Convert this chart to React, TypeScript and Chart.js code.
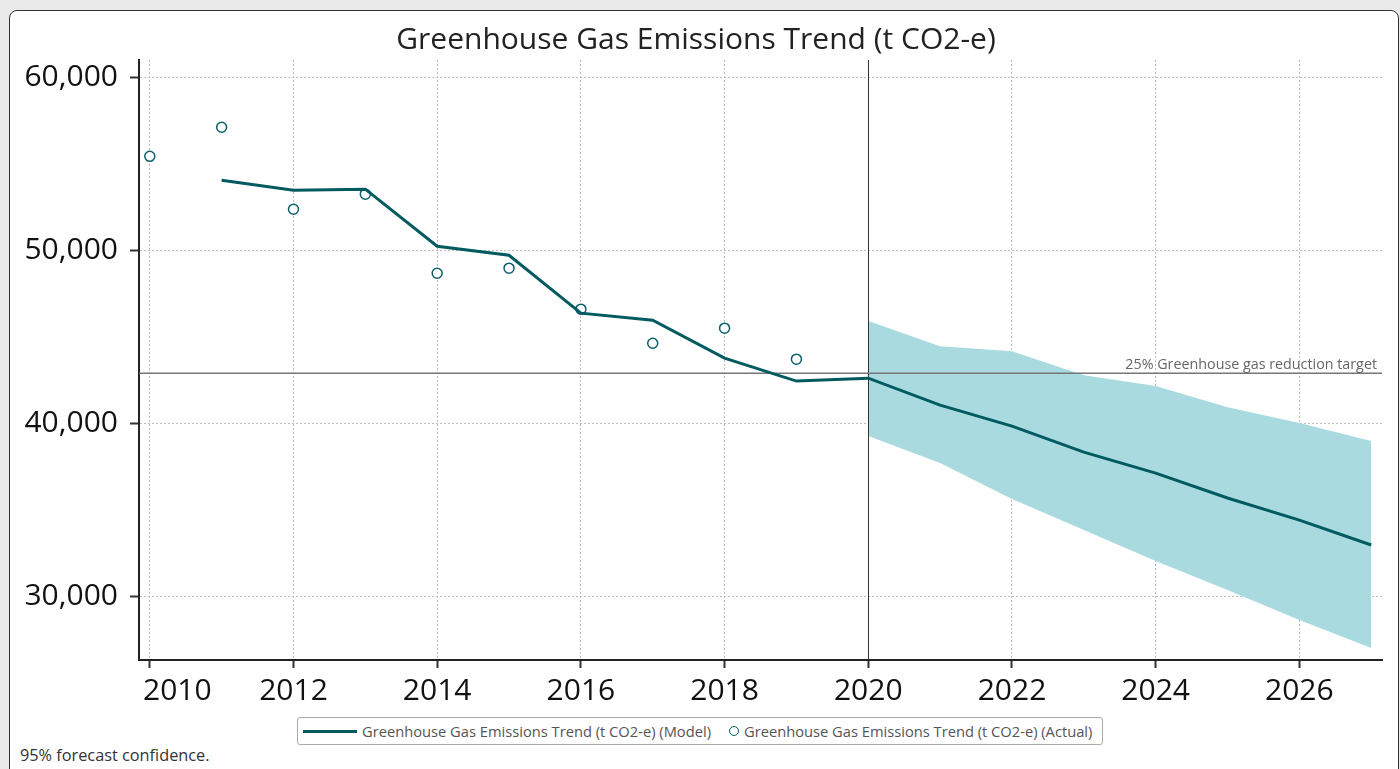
import React, { useEffect, useRef } from "react";
import { Chart, registerables } from "chart.js";

Chart.register(...registerables);

const TITLE = "Greenhouse Gas Emissions Trend (t CO2-e)";
const MODEL_LABEL = "Greenhouse Gas Emissions Trend (t CO2-e) (Model)";
const ACTUAL_LABEL = "Greenhouse Gas Emissions Trend (t CO2-e) (Actual)";
const TARGET_LABEL = "25% Greenhouse gas reduction target";
const FOOTNOTE = "95% forecast confidence.";

const actualYears = [2010, 2011, 2012, 2013, 2014, 2015, 2016, 2017, 2018, 2019];
const actualValues = [55430, 57110, 52370, 53240, 48670, 48960, 46590, 44620, 45490, 43700];

const modelYears = [2011, 2012, 2013, 2014, 2015, 2016, 2017, 2018, 2019, 2020, 2021, 2022, 2023, 2024, 2025, 2026, 2027];
const modelValues = [54050, 53470, 53530, 50230, 49710, 46360, 45950, 43760, 42430, 42600, 41040, 39830, 38320, 37110, 35670, 34390, 32950];

const bandYears = [2020, 2021, 2022, 2023, 2024, 2025, 2026, 2027];
const bandUpper = [45900, 44450, 44160, 42770, 42140, 40920, 40000, 38960];
const bandLower = [39250, 37690, 35610, 33820, 32020, 30350, 28610, 27000];

const xTickValues = [2010, 2012, 2014, 2016, 2018, 2020, 2022, 2024, 2026];
const yTickValues = [30000, 40000, 50000, 60000];

const targetValue = 42890;
const forecastStartYear = 2020;

const xMin = 2009.85;
const xMax = 2027.15;
const yMin = 26300;
const yMax = 61000;

const FONT = "'Open Sans', 'DejaVu Sans', sans-serif";
const TEAL = "#005b60";
const BAND = "#a9dadf";
const TICK_FONT_SIZE = 30;
const X_TICK_LEN = 8;
const X_TICK_PAD = 5;

const refLinesPlugin = {
  id: "refLines",
  afterDatasetDraw(chart: any, args: any) {
    if (args.index !== 3) return;
    const { ctx, chartArea, scales } = chart;
    const x = scales.x.getPixelForValue(forecastStartYear);
    const y = scales.y.getPixelForValue(targetValue);
    ctx.save();
    ctx.strokeStyle = "#333";
    ctx.lineWidth = 1;
    ctx.beginPath();
    ctx.moveTo(Math.round(x) + 0.5, chartArea.top);
    ctx.lineTo(Math.round(x) + 0.5, chartArea.bottom);
    ctx.stroke();
    ctx.strokeStyle = "#777";
    ctx.lineWidth = 1.5;
    ctx.beginPath();
    ctx.moveTo(chartArea.left, y);
    ctx.lineTo(chartArea.right, y);
    ctx.stroke();
    ctx.fillStyle = "#666";
    ctx.font = `14.3px ${FONT}`;
    ctx.textAlign = "right";
    ctx.textBaseline = "bottom";
    ctx.fillText(TARGET_LABEL, chartArea.right - 5, y - 1);
    ctx.restore();
  },
  afterDraw(chart: any) {
    // first x label is kept inside the plot area (left aligned)
    const { ctx, chartArea, scales } = chart;
    const first = xTickValues[0];
    const xs = scales.x;
    const lbl = String(first);
    ctx.save();
    ctx.fillStyle = "#111";
    ctx.font = `${TICK_FONT_SIZE}px ${FONT}`;
    ctx.textAlign = "left";
    ctx.textBaseline = "middle";
    const xp = Math.max(xs.getPixelForValue(first) - ctx.measureText(lbl).width / 2, chartArea.left + 4);
    ctx.fillText(lbl, xp, xs.top + X_TICK_LEN + X_TICK_PAD + (TICK_FONT_SIZE * 1.2) / 2);
    ctx.restore();
  },
};

function ChartCanvas() {
  const ref = useRef<HTMLCanvasElement | null>(null);
  useEffect(() => {
    if (!ref.current) return;
    const chart: any = new Chart(ref.current, {
      type: "line",
      data: {
        datasets: [
          {
            label: MODEL_LABEL,
            data: modelYears.map((x, i) => ({ x, y: modelValues[i] })),
            borderColor: TEAL,
            borderWidth: 3,
            pointRadius: 0,
            fill: false,
            tension: 0,
          },
          {
            label: ACTUAL_LABEL,
            data: actualYears.map((x, i) => ({ x, y: actualValues[i] })),
            showLine: false,
            borderColor: "#0b6068",
            backgroundColor: "#ffffff",
            pointRadius: 5,
            pointBorderWidth: 1.5,
            fill: false,
          },
          {
            label: "lower",
            data: bandYears.map((x, i) => ({ x, y: bandLower[i] })),
            borderWidth: 0,
            borderColor: "rgba(0,0,0,0)",
            pointRadius: 0,
            fill: false,
          },
          {
            label: "upper",
            data: bandYears.map((x, i) => ({ x, y: bandUpper[i] })),
            borderWidth: 0,
            borderColor: "rgba(0,0,0,0)",
            backgroundColor: BAND,
            pointRadius: 0,
            fill: "-1",
          },
        ],
      },
      options: {
        animation: false,
        responsive: false,
        maintainAspectRatio: false,
        layout: { padding: { left: 0, right: 16, top: 0, bottom: 0 } },
        plugins: {
          legend: { display: false },
          tooltip: { enabled: false },
          title: {
            display: true,
            text: TITLE,
            color: "#222",
            font: { family: FONT, size: 30, weight: "normal" },
            padding: { top: 11, bottom: 2 },
          },
        },
        scales: {
          x: {
            type: "linear",
            min: xMin,
            max: xMax,
            afterFit: (s: any) => {
              s.height = 56;
            },
            afterBuildTicks: (s: any) => {
              s.ticks = xTickValues.map((v) => ({ value: v }));
            },
            ticks: {
              color: (c: any) => (c.tick && c.tick.value === xTickValues[0] ? "rgba(0,0,0,0)" : "#111"),
              font: { family: FONT, size: TICK_FONT_SIZE },
              padding: X_TICK_PAD,
              maxRotation: 0,
              autoSkip: false,
              callback: (v: any) => String(v),
            },
            grid: {
              color: "#bdbdbd",
              lineWidth: 1,
              tickLength: X_TICK_LEN,
              tickColor: "#333",
              tickWidth: 2,
              tickBorderDash: [],
            },
            border: { color: "#222", width: 2, dash: [2, 2] },
          },
          y: {
            type: "linear",
            min: yMin,
            max: yMax,
            afterFit: (s: any) => {
              s.width = 129;
            },
            afterBuildTicks: (s: any) => {
              s.ticks = yTickValues.map((v) => ({ value: v }));
            },
            ticks: {
              color: "#111",
              font: { family: FONT, size: TICK_FONT_SIZE },
              padding: 12,
              autoSkip: false,
              callback: (v: any) => Number(v).toLocaleString("en-US"),
            },
            grid: {
              color: "#bdbdbd",
              lineWidth: 1,
              tickLength: 9,
              tickColor: "#333",
              tickWidth: 2,
              tickBorderDash: [],
            },
            border: { color: "#222", width: 2, dash: [2, 2] },
          },
        },
      } as any,
      plugins: [refLinesPlugin],
    });
    return () => chart.destroy();
  }, []);
  return <canvas ref={ref} width={1388} height={705} style={{ position: "absolute", left: 0, top: 0, width: 1388, height: 705 }} />;
}

export default function App() {
  return (
    <div style={{ position: "fixed", left: 0, top: 0, width: 1400, height: 769, background: "#ebeaea", overflow: "hidden" }}>
      <div
        style={{
          position: "absolute",
          left: 9,
          top: 10,
          width: 1390,
          height: 820,
          boxSizing: "border-box",
          border: "1px solid #333",
          borderRadius: 8,
          background: "#fff",
        }}
      >
        <ChartCanvas />
        <div
          style={{
            position: "absolute",
            left: 287,
            top: 706,
            width: 806,
            height: 28,
            boxSizing: "border-box",
            border: "1px solid #aaa",
            borderRadius: 3,
            display: "flex",
            alignItems: "center",
            paddingLeft: 5,
            fontFamily: FONT,
            fontSize: 14.7,
            color: "#555",
            whiteSpace: "nowrap",
          }}
        >
          <span style={{ display: "inline-block", width: 54, height: 3, background: TEAL, marginRight: 5 }} />
          <span>{MODEL_LABEL}</span>
          <span
            style={{
              display: "inline-block",
              width: 8,
              height: 8,
              border: `1.5px solid ${TEAL}`,
              borderRadius: "50%",
              marginLeft: 18,
              marginRight: 5,
            }}
          />
          <span>{ACTUAL_LABEL}</span>
        </div>
        <div
          style={{
            position: "absolute",
            left: 10,
            top: 733,
            fontFamily: FONT,
            fontSize: 16.3,
            color: "#333",
            whiteSpace: "nowrap",
          }}
        >
          {FOOTNOTE}
        </div>
      </div>
    </div>
  );
}
